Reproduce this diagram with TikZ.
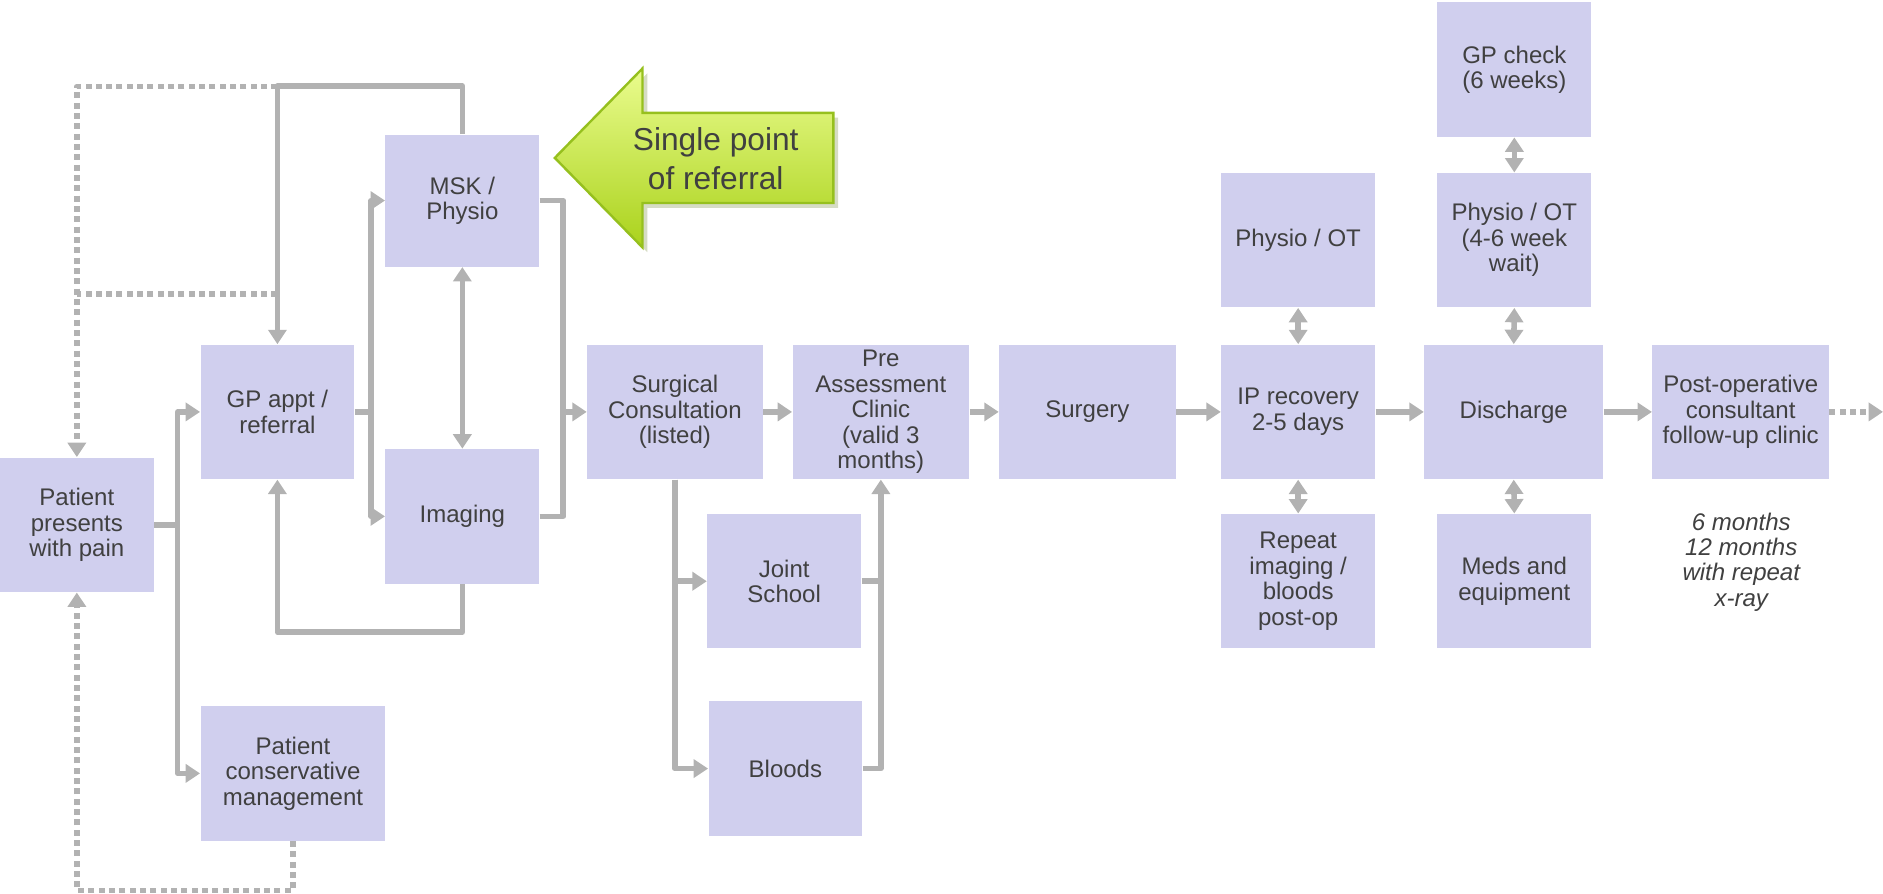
\documentclass[tikz,border=0pt]{standalone}
\usepackage{fontspec}
\setmainfont{Liberation Sans}
\usetikzlibrary{arrows.meta,shadows}
\definecolor{boxfill}{RGB}{208,207,238}
\definecolor{linegray}{RGB}{178,178,178}
\definecolor{txt}{RGB}{64,64,64}
\definecolor{greentop}{RGB}{234,252,142}
\definecolor{greenbot}{RGB}{170,210,28}
\definecolor{greenedge}{RGB}{150,192,30}

\tikzset{
  box/.style={fill=boxfill, text=txt, minimum width=64pt, minimum height=56pt,
    inner sep=1pt, align=center, font=\fontsize{10}{10.6}\selectfont},
  widebox/.style={box, minimum width=73.5pt},
  link/.style={draw=linegray, line width=2.3pt, line join=round},
  arr/.style={link, -{Triangle[length=6pt,width=7.5pt]}},
  arrboth/.style={link, {Triangle[length=6pt,width=7.5pt]}-{Triangle[length=6pt,width=7.5pt]}},
  dots/.style={link, dash pattern=on 2.5pt off 1.8pt},
}

\begin{document}
\begin{tikzpicture}[x=0.5pt,y=-0.5pt]
            \useasboundingbox (0,0) rectangle (1568,744);

            \node[box] (pat) at (64,437) {Patient\\presents\\with pain};
            \node[box] (gp) at (231,343) {GP appt /\\referral};
            \node[box, minimum width=77pt] (cons) at (244,644) {Patient\\conservative\\management};
            \node[box, minimum height=55pt] (msk) at (385,167) {MSK /\\Physio};
            \node[box] (img) at (385,430) {Imaging};
            \node[box, minimum width=73pt] (surg) at (562,343) {Surgical\\Consultation\\(listed)};
            \node[widebox] (pre) at (733.5,343) {Pre\\Assessment\\Clinic\\(valid 3\\months)};
            \node[box] (js) at (653,484) {Joint\\School};
            \node[box] (bl) at (654,640) {Bloods};
            \node[widebox] (sgy) at (905.5,343) {Surgery};
            \node[box] (ip) at (1081,343) {IP recovery\\2-5 days};
            \node[box] (ipot) at (1081,200) {Physio / OT};
            \node[box] (rep) at (1081,484) {Repeat\\imaging /\\bloods\\post-op};
            \node[box, minimum width=74.5pt] (dis) at (1260.5,343) {Discharge};
            \node[box] (disot) at (1261,200) {Physio / OT\\(4-6 week\\wait)};
            \node[box] (gpc) at (1261,58) {GP check\\(6 weeks)};
            \node[box] (meds) at (1261,484) {Meds and\\equipment};
            \node[widebox] (post) at (1449.5,343) {Post-operative\\consultant\\follow-up clinic};
            \node[text=txt, align=center, font=\fontsize{10}{10.6}\selectfont\itshape] (fu) at (1450,468) {6 months\\12 months\\with repeat\\x-ray};

            \fill[greenedge!60!black, opacity=0.25] (466,135.5) -- (539,61) -- (539,98) -- (698,98) -- (698,173) -- (539,173) -- (539,210) -- cycle;
            \shade[top color=greentop, bottom color=greenbot, draw=greenedge, line width=1pt]
              (462,131.5) -- (535,57) -- (535,94) -- (694,94) -- (694,169) -- (535,169) -- (535,206) -- cycle;
            \node[text=txt, align=center, font=\fontsize{13.2}{16}\selectfont] (spr) at (596,132) {Single point\\of referral};

            \coordinate (j1) at (148,437);
            \draw[link] (pat.east) -- (j1);
            \draw[arr] (j1) |- (gp.west);
            \draw[arr] (j1) |- (cons.west);
            \draw[dots,-{Triangle[length=6pt,width=7.5pt]}] (cons.south) -- ++(0,41) -| (pat.south);

            \coordinate (tl) at (231,72);
            \coordinate (ml) at (231,245);
            \draw[dots] (ml) -- (pat.north |- ml);
            \draw[dots,-{Triangle[length=6pt,width=7.5pt]}] (tl) -| (pat.north);
            \draw[arr] (msk.north) -- ++(0,-40) -| (gp.north);
            \draw[arr] (img.south) -- ++(0,40) -| (gp.south);

            \coordinate (j2) at (309,343);
            \draw[link] (gp.east) -- (j2);
            \draw[arr] (j2) |- (msk.west);
            \draw[arr] (j2) |- (img.west);
            \draw[arrboth] (msk.south) -- (img.north);

            \coordinate (j3) at (469,343);
            \draw[link] (msk.east) -| (j3);
            \draw[link] (img.east) -| (j3);
            \draw[arr] (j3) -- (surg.west);

            \draw[arr] (surg) -- (pre);
            \draw[arr] (surg.south) |- (js.west);
            \draw[arr] (surg.south) |- (bl.west);
            \coordinate (j4) at (pre.south |- js.east);
            \draw[link] (js.east) -- (j4);
            \draw[arr] (bl.east) -| (pre.south);

            \draw[arr] (pre) -- (sgy);
            \draw[arr] (sgy) -- (ip);
            \draw[arr] (ip) -- (dis);
            \draw[arr] (dis) -- (post);
            \draw[arrboth] (ip.north) -- (ipot.south);
            \draw[arrboth] (ip.south) -- (rep.north);
            \draw[arrboth] (dis.north) -- (disot.south);
            \draw[arrboth] (disot.north) -- (gpc.south);
            \draw[arrboth] (dis.south) -- (meds.north);

            \coordinate (out) at (1568,343);
            \draw[dots,-{Triangle[length=6pt,width=7.5pt]}] (post.east) -- (out);
        \end{tikzpicture}
\end{document}
